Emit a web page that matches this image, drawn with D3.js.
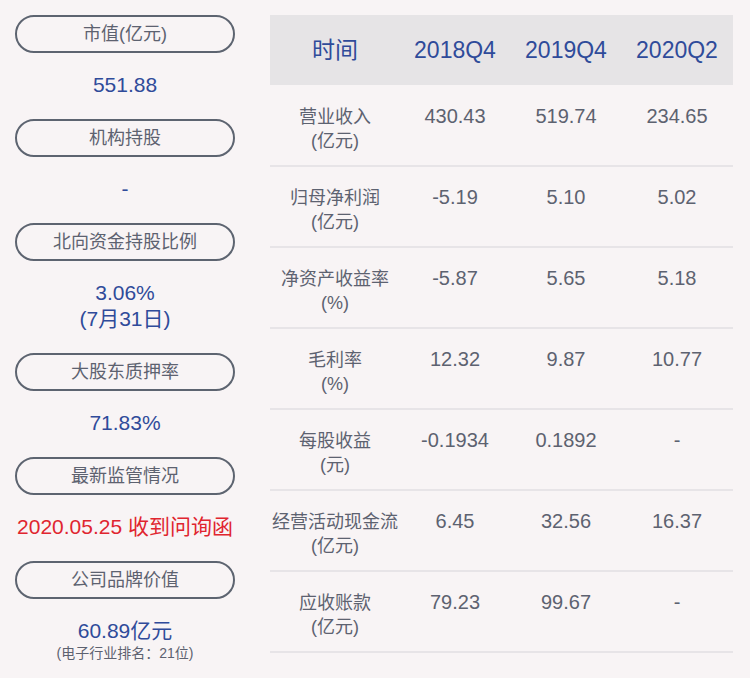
<!DOCTYPE html>
<html><head><meta charset="utf-8">
<script src="https://cdn.jsdelivr.net/npm/d3@7"></script>
<style>body{margin:0;background:#f8f4f5}svg{display:block}</style>
</head><body>
<script>
const leftLabels = ["市值(亿元)","机构持股","北向资金持股比例","大股东质押率","最新监管情况","公司品牌价值"];
const leftValues = [["551.88"],["-"],["3.06%","(7月31日)"],["71.83%"],["2020.05.25 收到问询函"],["60.89亿元"]];
const leftNote = "(电子行业排名：21位)";
const periods = ["2018Q4","2019Q4","2020Q2"];
const rowLabels = [["营业收入","(亿元)"],["归母净利润","(亿元)"],["净资产收益率","(%)"],["毛利率","(%)"],["每股收益","(元)"],["经营活动现金流","(亿元)"],["应收账款","(亿元)"]];
const rowValues = [
  ["430.43","519.74","234.65"],
  ["-5.19","5.10","5.02"],
  ["-5.87","5.65","5.18"],
  ["12.32","9.87","10.77"],
  ["-0.1934","0.1892","-"],
  ["6.45","32.56","16.37"],
  ["79.23","99.67","-"]
];
const font = "'Liberation Sans','Noto Sans CJK SC',sans-serif";
const blue = "#2f4b9a", gray = "#5d6270", red = "#e0252f";
const svg = d3.select("body").append("svg").attr("width",750).attr("height",678)
  .style("font-family",font);
svg.append("rect").attr("width",750).attr("height",678).attr("fill","#f8f4f5");

const pillY = [34,138,242,372,476,580];
const g = svg.append("g");
leftLabels.forEach((t,i)=>{
  const y = pillY[i];
  g.append("rect").attr("x",16).attr("y",y-18).attr("width",218).attr("height",36)
    .attr("rx",18).attr("fill","none").attr("stroke","#5d6470").attr("stroke-width",2);
  g.append("text").attr("x",125).attr("y",y+6).attr("text-anchor","middle")
    .attr("font-size",18).attr("fill",gray).text(t);
  leftValues[i].forEach((v,j)=>{
    g.append("text").attr("x",125).attr("y",y+58+j*26).attr("text-anchor","middle")
      .attr("font-size",21).attr("fill",i===4?red:blue).text(v);
  });
});
g.append("text").attr("x",125).attr("y",658).attr("text-anchor","middle")
  .attr("font-size",14).attr("fill",gray).text(leftNote);

const xs = {label:335,"2018Q4":455,"2019Q4":566,"2020Q2":677};
const y = d3.scaleBand().domain(d3.range(rowLabels.length)).range([85,652]);
svg.append("rect").attr("x",270).attr("y",15).attr("width",463).attr("height",70).attr("fill","#e6e4e6");
svg.append("text").attr("x",xs.label).attr("y",58).attr("text-anchor","middle")
  .attr("font-size",23).attr("fill",blue).text("时间");
periods.forEach(p=>svg.append("text").attr("x",xs[p]).attr("y",58).attr("text-anchor","middle")
  .attr("font-size",23).attr("fill",blue).text(p));
rowLabels.forEach((lab,i)=>{
  const top = y(i);
  lab.forEach((l,j)=>svg.append("text").attr("x",xs.label).attr("y",top+38+j*24)
    .attr("text-anchor","middle").attr("font-size",18).attr("fill",gray).text(l));
  rowValues[i].forEach((v,k)=>svg.append("text").attr("x",xs[periods[k]]).attr("y",top+38)
    .attr("text-anchor","middle").attr("font-size",20).attr("fill",gray).text(v));
  svg.append("line").attr("x1",270).attr("x2",733).attr("y1",top+y.bandwidth()).attr("y2",top+y.bandwidth())
    .attr("stroke","#e2dfe2").attr("stroke-width",1.5);
});
</script>
</body></html>
